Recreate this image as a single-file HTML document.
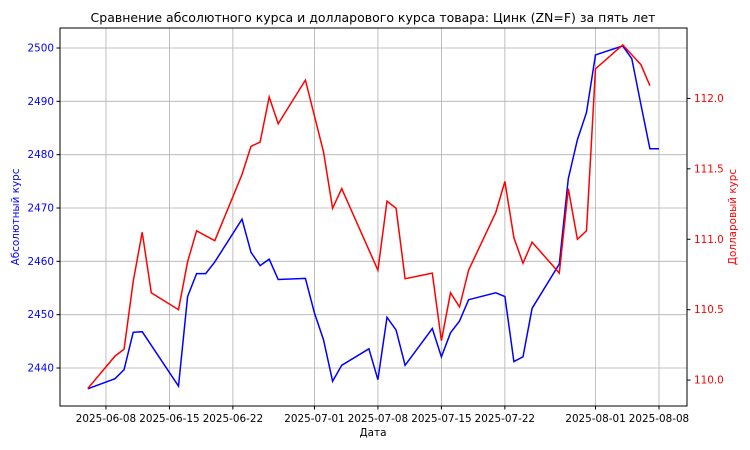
<!DOCTYPE html>
<html><head><meta charset="utf-8"><style>
body{margin:0;background:#fff}
svg{display:block;font-family:"DejaVu Sans","Liberation Sans",sans-serif}
</style></head><body>
<svg id="c" width="750" height="450">
<text x="373" y="22" text-anchor="middle" font-size="12.5">Сравнение абсолютного курса и долларового курса товара: Цинк (ZN=F) за пять лет</text>
<g id="grid"></g>
<g id="axes"></g>
<g id="series"></g>
<rect x="60" y="28" width="627" height="378" fill="none" stroke="#000" stroke-width="1"/>
<text x="373" y="436" text-anchor="middle" font-size="10.4">Дата</text>
<text transform="translate(19,217) rotate(-90)" text-anchor="middle" font-size="10.4" fill="#0000ff">Абсолютный курс</text>
<text transform="translate(736,217) rotate(-90)" text-anchor="middle" font-size="10.4" fill="#ff0000">Долларовый курс</text>
</svg>
<script>
// day offsets from 2025-06-08
const blueDays=[-2,1,2,3,4,8,9,10,11,12,15,16,17,18,19,22,23,24,25,26,29,30,31,32,33,36,37,38,39,40,43,44,45,46,47,50,51,52,53,54,57,58,59,60,61];
const blueVals=[2436.1,2438.0,2439.7,2446.7,2446.8,2436.6,2453.4,2457.7,2457.7,2459.9,2467.9,2461.7,2459.2,2460.4,2456.6,2456.8,2450.3,2445.3,2437.5,2440.5,2443.6,2437.8,2449.5,2447.1,2440.5,2447.4,2442.1,2446.6,2448.8,2452.8,2454.1,2453.4,2441.2,2442.1,2451.2,2459.5,2475.5,2482.8,2487.9,2498.7,2500.4,2498.0,2489.4,2481.1,2481.1];
const redDays=[-2,1,2,3,4,5,8,9,10,12,15,16,17,18,19,22,24,25,26,30,31,32,33,36,37,38,39,40,43,44,45,46,47,50,51,52,53,54,57,59,60];
const redVals=[109.94,110.17,110.22,110.70,111.05,110.62,110.50,110.84,111.06,110.99,111.46,111.66,111.69,112.01,111.82,112.13,111.62,111.22,111.36,110.78,111.27,111.22,110.72,110.76,110.28,110.62,110.52,110.78,111.19,111.41,111.01,110.83,110.98,110.76,111.36,111.00,111.06,112.21,112.38,112.24,112.09];
const xTickDays=[0,7,14,23,30,37,44,54,61];
const xTickLabels=["2025-06-08","2025-06-15","2025-06-22","2025-07-01","2025-07-08","2025-07-15","2025-07-22","2025-08-01","2025-08-08"];
const leftTicks=[2440,2450,2460,2470,2480,2490,2500];
const rightTicks=[110.0,110.5,111.0,111.5,112.0];

const L=60,R=687,T=28,B=406;
const xS=d=>L+(d-(-5.07))/(64.09+5.07)*(R-L);
const yL=v=>B-(v-2432.875)/(2503.75-2432.875)*(B-T);
const yR=v=>B-(v-109.816)/(112.50-109.816)*(B-T);
const NS="http://www.w3.org/2000/svg";
function mk(tag,attrs,parent,text){const e=document.createElementNS(NS,tag);for(const k in attrs)e.setAttribute(k,attrs[k]);if(text!==undefined)e.textContent=text;parent.appendChild(e);return e;}
const grid=document.getElementById('grid'),axes=document.getElementById('axes'),ser=document.getElementById('series');
xTickDays.forEach((d,i)=>{const x=xS(d);
 const g=mk('line',{x1:x,x2:x,y1:T,y2:B,stroke:'#b0b0b0','stroke-width':0.8},grid);
 
 
 mk('line',{x1:x,x2:x,y1:B,y2:B+3.5,stroke:'#000'},axes);
 const t=mk('text',{x:x,y:B+16,'text-anchor':'middle','font-size':10.4},axes,xTickLabels[i]);
 
 
});
leftTicks.forEach(v=>{const y=yL(v);
 const g=mk('line',{x1:L,x2:R,y1:y,y2:y,stroke:'#b0b0b0','stroke-width':0.8},grid);
 
 
 mk('line',{x1:L-3.5,x2:L,y1:y,y2:y,stroke:'#000'},axes);
 const t=mk('text',{x:L-6,y:y+3.5,'text-anchor':'end','font-size':10.4,fill:'#0000ff'},axes,String(v));
 
 
});
rightTicks.forEach(v=>{const y=yR(v);
 mk('line',{x1:R,x2:R+3.5,y1:y,y2:y,stroke:'#000'},axes);
 const t=mk('text',{x:R+7,y:y+3.5,'font-size':10.4,fill:'#ff0000'},axes,v.toFixed(1));
 
 
});
const bp=blueDays.map((d,i)=>xS(d).toFixed(1)+','+yL(blueVals[i]).toFixed(1)).join(' ');
const bl=mk('polyline',{points:bp,fill:'none',stroke:'#0000ff','stroke-width':1.5},ser);


const rp=redDays.map((d,i)=>xS(d).toFixed(1)+','+yR(redVals[i]).toFixed(1)).join(' ');
const rl=mk('polyline',{points:rp,fill:'none',stroke:'#ff0000','stroke-width':1.5},ser);


</script>
</body></html>
